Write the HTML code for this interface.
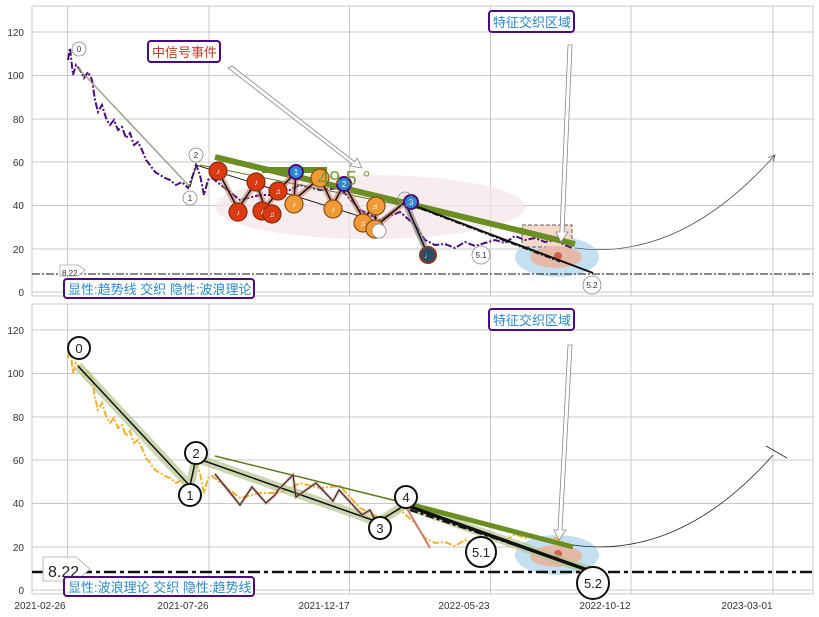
<!DOCTYPE html>
<html><head><meta charset="utf-8"><style>
html,body{margin:0;padding:0;background:#fff;}
svg text{font-family:"Liberation Sans","Noto Sans CJK SC",sans-serif;}
#wrap{position:relative;width:819px;height:617px;}
#ang{position:absolute;left:318px;top:168px;font:20px "Liberation Sans",sans-serif;color:#6b8e23;opacity:0.85;white-space:nowrap;line-height:22px;}
</style></head><body>
<div id="wrap">
<svg width="819" height="617" viewBox="0 0 819 617" xmlns="http://www.w3.org/2000/svg" style="position:absolute;left:0;top:0">
<defs>
<marker id="ah" markerWidth="10" markerHeight="10" refX="8" refY="5" orient="auto"><path d="M0,1 L8,5 L0,9" fill="none" stroke="#555" stroke-width="1"/></marker>
</defs>
<rect width="819" height="617" fill="#fff"/>
<g stroke="#c8c8c8" stroke-width="1" fill="none">
<rect x="32" y="6" width="781" height="290"/>
<line x1="32" y1="32" x2="813" y2="32"/><line x1="32" y1="75.5" x2="813" y2="75.5"/><line x1="32" y1="119" x2="813" y2="119"/><line x1="32" y1="162" x2="813" y2="162"/><line x1="32" y1="205.5" x2="813" y2="205.5"/><line x1="32" y1="249" x2="813" y2="249"/><line x1="32" y1="292" x2="813" y2="292"/>
<line x1="67.5" y1="6" x2="67.5" y2="296"/><line x1="209" y1="6" x2="209" y2="296"/><line x1="349.5" y1="6" x2="349.5" y2="296"/><line x1="490.5" y1="6" x2="490.5" y2="296"/><line x1="631" y1="6" x2="631" y2="296"/><line x1="773" y1="6" x2="773" y2="296"/>
</g>
<g font-size="10" fill="#333" text-anchor="end">
<text x="24" y="36">120</text><text x="24" y="79">100</text><text x="24" y="123">80</text><text x="24" y="166">60</text><text x="24" y="209">40</text><text x="24" y="253">20</text><text x="24" y="296">0</text>
</g>
<ellipse cx="370" cy="207" rx="155" ry="32" fill="#f5e4e8" opacity="0.7"/>
<ellipse cx="557" cy="257" rx="42" ry="20" fill="#c3dff0"/>
<rect x="522" y="225" width="50" height="22" fill="#f6d9cc" stroke="#333" stroke-dasharray="4,2" stroke-width="0.8"/>
<ellipse cx="556" cy="257" rx="26" ry="11" fill="#e6b8a8"/>
<circle cx="558" cy="256" r="4" fill="#d0604c"/>
<polyline fill="none" stroke="#4b0d7a" stroke-width="2" stroke-dasharray="7,2,2,2" points="68,60 70,48 73,75 76,65 80,70 84,78 88,72 92,80 95,100 98,112 102,105 106,118 110,125 114,120 118,130 122,127 126,138 130,133 134,145 138,142 142,150 146,160 150,165 155,172 160,175 165,178 170,180 176,185 182,182 188,188 193,175 196,165 200,175 204,195 208,180 212,178 240,200 260,195 280,195 300,185 320,190 340,188 360,210 380,220 400,212 415,225 425,240 435,245 445,244 455,248 465,242 475,246 485,243 495,240 505,243 515,236 525,240 535,238 545,242 555,240 565,245 572,248"/>
<line x1="78" y1="68" x2="190" y2="187" stroke="#222" stroke-width="1.2"/>
<line x1="78" y1="68" x2="190" y2="187" stroke="#e6e8b0" stroke-width="0.6"/>
<polyline fill="none" stroke="#222" stroke-width="1" points="190,187 196,165 378,222 405,202"/>
<line x1="200" y1="165" x2="405" y2="206" stroke="#5c7a1e" stroke-width="1"/>
<line x1="215" y1="157" x2="575" y2="244" stroke="#6b8e23" stroke-width="6"/>
<line x1="262" y1="170" x2="327" y2="170" stroke="#6b8e23" stroke-width="6"/>
<line x1="405" y1="202" x2="593" y2="273" stroke="#111" stroke-width="2"/>
<line x1="410" y1="205" x2="560" y2="262" stroke="#111" stroke-width="1" stroke-dasharray="6,2,2,2"/>
<line x1="405" y1="202" x2="428" y2="255" stroke="#888" stroke-width="6" opacity="0.7"/>
<polyline fill="none" stroke="#c98070" stroke-width="6" opacity="0.6" points="218,171 238,209 256,182 265,208 273,198 278,191 296,172 294,200 320,178 333,205 344,184 363,218 376,206 375,227 405,202"/>
<polyline fill="none" stroke="#111" stroke-width="1.5" points="218,171 238,209 256,182 265,208 273,198 278,191 296,172 294,200 320,178 333,205 344,184 363,218 376,206 375,227 405,202 428,255"/>
<g stroke="#8a2a0a" stroke-width="1.2" fill="#d93a10">
<circle cx="218" cy="171" r="9"/><circle cx="238" cy="212" r="9"/><circle cx="256" cy="182" r="9"/><circle cx="262" cy="211" r="9"/><circle cx="272" cy="214" r="9"/><circle cx="278" cy="191" r="9"/>
</g>
<g stroke="#8a4a0a" stroke-width="1.2" fill="#f29a38">
<circle cx="294" cy="204" r="9"/><circle cx="320" cy="178" r="9"/><circle cx="333" cy="209" r="9"/><circle cx="363" cy="223" r="9"/><circle cx="376" cy="206" r="9"/><circle cx="375" cy="229" r="9"/>
</g>
<g stroke="#4b0d7a" stroke-width="2" fill="#2a88d8">
<circle cx="296" cy="172" r="7"/><circle cx="344" cy="184" r="7"/><circle cx="411" cy="202" r="7"/>
</g>
<circle cx="428" cy="255" r="8" fill="#2d4a66" stroke="#8a3a20" stroke-width="2"/>
<g font-size="8" fill="#fff" text-anchor="middle">
<text x="218" y="174">♪</text><text x="238" y="215">♪</text><text x="256" y="185">♪</text><text x="262" y="214">♪</text><text x="272" y="217">♫</text><text x="278" y="194">♫</text><text x="294" y="207">♪</text><text x="320" y="181">♪</text><text x="333" y="212">♪</text><text x="363" y="226">♫</text><text x="376" y="209">♬</text><text x="375" y="232">♬</text>
<text x="296" y="175">1</text><text x="344" y="187">2</text><text x="411" y="205">3</text><text x="428" y="258">♩</text>
</g>
<line x1="32" y1="274" x2="813" y2="274" stroke="#111" stroke-width="1" stroke-dasharray="8,2,2,2"/>
<path d="M575,248 Q680,262 775,155" fill="none" stroke="#555" stroke-width="0.8" marker-end="url(#ah)"/>
<polygon points="228,68 232,66 355,162 357,158 362,168 350,166 352,164" fill="#fff" stroke="#888" stroke-width="0.8"/>
<polygon points="568,45 572,45 564,232 568,232 561,242 556,232 560,232" fill="#fff" stroke="#888" stroke-width="0.8"/>
<g fill="#fff" stroke="#888" stroke-width="0.8">
<circle cx="79" cy="49" r="7"/><circle cx="190" cy="198" r="7"/><circle cx="196" cy="155" r="7"/><circle cx="379" cy="231" r="7"/><circle cx="405" cy="199" r="7" fill="none"/><circle cx="481" cy="255" r="9"/><circle cx="592" cy="285" r="9"/>
</g>
<g font-size="8" fill="#333" text-anchor="middle">
<text x="79" y="52">0</text><text x="190" y="201">1</text><text x="196" y="158">2</text><text x="481" y="258">5.1</text><text x="592" y="288">5.2</text>
</g>
<path d="M60,265 H78 L85,270 L78,276 H60 Z" fill="#fff" stroke="#aaa" stroke-width="0.8"/>
<text x="62" y="276" font-size="8" fill="#333">8.22</text>
<rect x="64" y="279" width="190" height="19" rx="3" fill="#fff" stroke="#4b0d7a" stroke-width="2"/>
<text x="68" y="294" font-size="13" fill="#2a88c8">显性:趋势线 交织 隐性:波浪理论</text>
<rect x="148" y="41" width="72" height="21" rx="3" fill="#fff" stroke="#4b0d7a" stroke-width="2"/>
<text x="152" y="57" font-size="13" fill="#c03a2a">中信号事件</text>
<rect x="489" y="11" width="85" height="21" rx="3" fill="#fff" stroke="#4b0d7a" stroke-width="2"/>
<text x="493" y="27" font-size="13" fill="#2a88c8">特征交织区域</text>

<g stroke="#c8c8c8" stroke-width="1" fill="none">
<rect x="32" y="304" width="781" height="290"/>
<line x1="32" y1="330" x2="813" y2="330"/><line x1="32" y1="373.5" x2="813" y2="373.5"/><line x1="32" y1="417" x2="813" y2="417"/><line x1="32" y1="460" x2="813" y2="460"/><line x1="32" y1="503.5" x2="813" y2="503.5"/><line x1="32" y1="547" x2="813" y2="547"/><line x1="32" y1="590" x2="813" y2="590"/>
<line x1="67.5" y1="304" x2="67.5" y2="594"/><line x1="209" y1="304" x2="209" y2="594"/><line x1="349.5" y1="304" x2="349.5" y2="594"/><line x1="490.5" y1="304" x2="490.5" y2="594"/><line x1="631" y1="304" x2="631" y2="594"/><line x1="773" y1="304" x2="773" y2="594"/>
</g>
<g font-size="10" fill="#333" text-anchor="end">
<text x="24" y="334">120</text><text x="24" y="377">100</text><text x="24" y="421">80</text><text x="24" y="464">60</text><text x="24" y="507">40</text><text x="24" y="551">20</text><text x="24" y="594">0</text>
</g>
<g font-size="10" fill="#333" text-anchor="middle">
<text x="40" y="609">2021-02-26</text><text x="183" y="609">2021-07-26</text><text x="324" y="609">2021-12-17</text><text x="464" y="609">2022-05-23</text><text x="605" y="609">2022-10-12</text><text x="747" y="609">2023-03-01</text>
</g>
<ellipse cx="557" cy="555" rx="42" ry="20" fill="#c3dff0"/>
<ellipse cx="556" cy="556" rx="26" ry="11" fill="#e6b8a8"/>
<circle cx="558" cy="554" r="4" fill="#d0604c"/>
<polyline fill="none" stroke="#f0b030" stroke-width="2" stroke-dasharray="7,2,2,2" points="68,358 70,346 73,373 76,363 80,368 84,376 88,370 92,378 95,398 98,410 102,403 106,416 110,423 114,418 118,428 122,425 126,436 130,431 134,443 138,440 142,448 146,458 150,463 155,470 160,473 165,476 170,478 176,483 182,480 188,486 193,473 196,463 200,473 204,493 208,478 212,476 240,498 260,493 280,493 300,483 320,488 340,486 360,508 380,518 400,510 415,523 425,538 435,543 445,542 455,546 465,540 475,544 485,541 495,538 505,541 515,534 525,538 535,536 545,540 555,538 565,543 572,546"/>
<polyline fill="none" stroke="#b5c690" stroke-width="9" opacity="0.7" stroke-linejoin="round" points="78,366 190,486 196,458 378,522 405,505 593,572"/>
<polyline fill="none" stroke="#111" stroke-width="1.5" points="78,366 190,486 196,458 378,522 405,505"/>
<line x1="215" y1="456" x2="405" y2="503" stroke="#5c7a1e" stroke-width="1.5"/>
<polyline fill="none" stroke="#c98070" stroke-width="3" opacity="0.6" points="215,474 240,505 252,487 266,503 275,495 278,490 293,475 296,497 316,483 333,501 339,490 362,515 370,510 376,522"/>
<polyline fill="none" stroke="#222" stroke-width="1" points="215,474 240,505 252,487 266,503 275,495 278,490 293,475 296,497 316,483 333,501 339,490 362,515 370,510 376,522"/>
<line x1="405" y1="505" x2="430" y2="548" stroke="#c98070" stroke-width="2"/>
<line x1="405" y1="503" x2="573" y2="547" stroke="#6b8e23" stroke-width="5"/>
<line x1="405" y1="505" x2="593" y2="572" stroke="#111" stroke-width="3.5"/>
<line x1="410" y1="510" x2="560" y2="560" stroke="#111" stroke-width="2" stroke-dasharray="8,3,3,3"/>
<line x1="32" y1="572" x2="813" y2="572" stroke="#111" stroke-width="2.5" stroke-dasharray="12,4,4,4"/>
<path d="M573,545 Q680,560 773,455" fill="none" stroke="#222" stroke-width="0.8"/>
<line x1="766" y1="446" x2="787" y2="458" stroke="#222" stroke-width="0.8"/>
<polygon points="568,345 572,345 562,530 566,530 559,540 554,530 558,530" fill="#fff" stroke="#888" stroke-width="0.8"/>
<g fill="#fff" stroke="#111" stroke-width="2">
<circle cx="79" cy="348" r="11"/><circle cx="190" cy="495" r="11"/><circle cx="196" cy="453" r="11"/><circle cx="380" cy="528" r="11"/><circle cx="406" cy="497" r="11"/><circle cx="481" cy="552" r="15"/><circle cx="593" cy="583" r="16"/>
</g>
<g font-size="13" fill="#222" text-anchor="middle">
<text x="79" y="353">0</text><text x="190" y="500">1</text><text x="196" y="458">2</text><text x="380" y="533">3</text><text x="406" y="502">4</text><text x="481" y="557">5.1</text><text x="593" y="588">5.2</text>
</g>
<path d="M43,557 H76 L90,569 L76,581 H43 Z" fill="#fff" stroke="#aaa" stroke-width="0.8"/>
<text x="48" y="577" font-size="16" fill="#222">8.22</text>
<rect x="64" y="577" width="190" height="19" rx="3" fill="#fff" stroke="#4b0d7a" stroke-width="2"/>
<text x="68" y="592" font-size="13" fill="#2a88c8">显性:波浪理论 交织 隐性:趋势线</text>
<rect x="489" y="309" width="85" height="21" rx="3" fill="#fff" stroke="#4b0d7a" stroke-width="2"/>
<text x="493" y="325" font-size="13" fill="#2a88c8">特征交织区域</text>
</svg>
<div id="ang">49.5 °</div>
</div>
</body></html>
